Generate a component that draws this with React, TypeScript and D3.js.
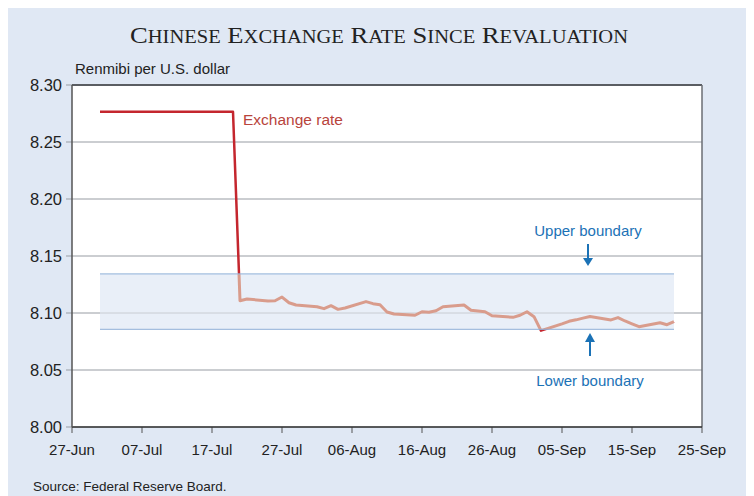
import React from "react";
import * as d3 from "d3";

// exchange rate, renminbi per U.S. dollar
const dates = [
  "2005-07-01", "2005-07-05", "2005-07-06", "2005-07-07", "2005-07-08",
  "2005-07-11", "2005-07-12", "2005-07-13", "2005-07-14", "2005-07-15",
  "2005-07-18", "2005-07-19", "2005-07-20",
  "2005-07-21", "2005-07-22", "2005-07-25", "2005-07-26", "2005-07-27",
  "2005-07-28", "2005-07-29", "2005-08-01", "2005-08-02", "2005-08-03",
  "2005-08-04", "2005-08-05", "2005-08-08", "2005-08-09", "2005-08-10",
  "2005-08-11", "2005-08-12", "2005-08-15", "2005-08-16", "2005-08-17",
  "2005-08-18", "2005-08-19", "2005-08-22", "2005-08-23", "2005-08-24",
  "2005-08-25", "2005-08-26", "2005-08-29", "2005-08-30", "2005-08-31",
  "2005-09-01", "2005-09-02", "2005-09-05", "2005-09-06", "2005-09-07",
  "2005-09-08", "2005-09-09", "2005-09-12", "2005-09-13", "2005-09-14",
  "2005-09-15", "2005-09-16", "2005-09-19", "2005-09-20", "2005-09-21",
];
const rates = [
  8.2765, 8.2765, 8.2765, 8.2765, 8.2765,
  8.2765, 8.2765, 8.2765, 8.2765, 8.2765,
  8.2765, 8.2765, 8.2765,
  8.1108, 8.1123, 8.1105, 8.1107, 8.114,
  8.109, 8.107, 8.1055, 8.1038, 8.1064,
  8.1032, 8.1044, 8.11, 8.1082, 8.1073,
  8.1009, 8.0991, 8.098, 8.1011, 8.1006,
  8.102, 8.1055, 8.107, 8.1024, 8.1018,
  8.1011, 8.0976, 8.0962, 8.098, 8.1011,
  8.0968, 8.0845, 8.0905, 8.0927, 8.094,
  8.0955, 8.097, 8.0939, 8.096, 8.093,
  8.0905, 8.088, 8.0915, 8.0897, 8.0924,
];

// trading band around the new rate
const bandStart = "2005-07-01";
const bandEnd = "2005-09-21";
const bandUpper = 8.1343;
const bandLower = 8.0857;

const yTicks = [8.0, 8.05, 8.1, 8.15, 8.2, 8.25, 8.3];
const xTickDates = [
  "2005-06-27", "2005-07-07", "2005-07-17", "2005-07-27", "2005-08-06",
  "2005-08-16", "2005-08-26", "2005-09-05", "2005-09-15", "2005-09-25",
];

const parse = d3.timeParse("%Y-%m-%d");
const fmt = d3.timeFormat("%d-%b");
const sans = "'Liberation Sans', Arial, sans-serif";

export default function App() {
  const left = 72, right = 702, top = 85, bottom = 427;

  const x = d3.scaleTime()
    .domain([parse(xTickDates[0])!, parse(xTickDates[xTickDates.length - 1])!])
    .range([left, right]);
  const y = d3.scaleLinear().domain([8.0, 8.3]).range([bottom, top]);

  const pts: [number, number][] = dates.map((d, i) => [x(parse(d)!), y(rates[i])]);
  const line = d3.line()(pts) || "";

  const bx0 = x(parse(bandStart)!);
  const bx1 = x(parse(bandEnd)!);
  const by0 = y(bandUpper);
  const by1 = y(bandLower);

  return (
    <svg width={746} height={488} style={{ display: "block" }}>
      <g transform="translate(-8,-8)">
        <rect x={8} y={8} width={746} height={488} fill="#e0e8f4" />
        <text x={379} y={43} textAnchor="middle" fontFamily="'Liberation Serif', 'Times New Roman', serif"
          fill="#222" textLength={498} lengthAdjust="spacingAndGlyphs">
          {["Chinese", "Exchange", "Rate", "Since", "Revaluation"].map((w, i) => (
            <React.Fragment key={w}>
              <tspan fontSize={24}>{(i > 0 ? " " : "") + w[0]}</tspan>
              <tspan fontSize={18.5}>{w.slice(1).toUpperCase()}</tspan>
            </React.Fragment>
          ))}
        </text>
        <text x={75} y={74} fontFamily={sans} fontSize={15} fill="#222">Renmibi per U.S. dollar</text>

        <rect x={left} y={top} width={right - left} height={bottom - top} fill="#fff" />

        {yTicks.map((t) => (
          <g key={t}>
            <line x1={66} x2={right} y1={y(t)} y2={y(t)} stroke="#979ca3" strokeWidth={1} />
            <text x={62} y={y(t) + 6} textAnchor="end" fontFamily={sans} fontSize={16.5} fill="#222">
              {t.toFixed(2)}
            </text>
          </g>
        ))}

        {xTickDates.map((d) => (
          <g key={d}>
            <line x1={x(parse(d)!)} x2={x(parse(d)!)} y1={bottom} y2={bottom + 6} stroke="#555" />
            <text x={x(parse(d)!)} y={455} textAnchor="middle" fontFamily={sans} fontSize={15} fill="#222">
              {fmt(parse(d)!)}
            </text>
          </g>
        ))}

        <line x1={left} x2={right} y1={top} y2={top} stroke="#5a5d62" strokeWidth={2} />
        <line x1={right} x2={right} y1={top} y2={bottom} stroke="#6b6e73" strokeWidth={1.5} />
        <line x1={left} x2={right} y1={bottom} y2={bottom} stroke="#333" strokeWidth={1.5} />
        <line x1={left} x2={left} y1={top} y2={bottom} stroke="#555" strokeWidth={1.5} />

        <path d={line} fill="none" stroke="#c4262e" strokeWidth={2.5} strokeLinejoin="round" />

        <defs>
          <clipPath id="band">
            <rect x={bx0} y={by0} width={bx1 - bx0} height={by1 - by0} />
          </clipPath>
        </defs>
        <rect x={bx0} y={by0} width={bx1 - bx0} height={by1 - by0} fill="#e9eff8" />
        <line x1={bx0} x2={bx1} y1={y(8.1)} y2={y(8.1)} stroke="#c8ccd2" strokeWidth={1} />
        <path d={line} fill="none" stroke="#d99c8c" strokeWidth={3} strokeLinejoin="round" clipPath="url(#band)" />
        <line x1={bx0} x2={bx1} y1={by0} y2={by0} stroke="#8fb0d8" strokeWidth={1} />
        <line x1={bx0} x2={bx1} y1={by1} y2={by1} stroke="#8fb0d8" strokeWidth={1} />

        <text x={243} y={125} fontFamily={sans} fontSize={15.5} fill="#b8443c">Exchange rate</text>

        <text x={588} y={236} textAnchor="middle" fontFamily={sans} fontSize={15} fill="#1b72b6">Upper boundary</text>
        <line x1={588} x2={588} y1={244} y2={259} stroke="#1b72b6" strokeWidth={2} />
        <path d={`M583,258 L593,258 L588,266 Z`} fill="#1b72b6" />

        <text x={590} y={386} textAnchor="middle" fontFamily={sans} fontSize={15} fill="#1b72b6">Lower boundary</text>
        <line x1={590} x2={590} y1={356} y2={341} stroke="#1b72b6" strokeWidth={2} />
        <path d={`M585,342 L595,342 L590,333 Z`} fill="#1b72b6" />

        <text x={33} y={491} fontFamily={sans} fontSize={13.5} fill="#222">Source: Federal Reserve Board.</text>
      </g>
    </svg>
  );
}
